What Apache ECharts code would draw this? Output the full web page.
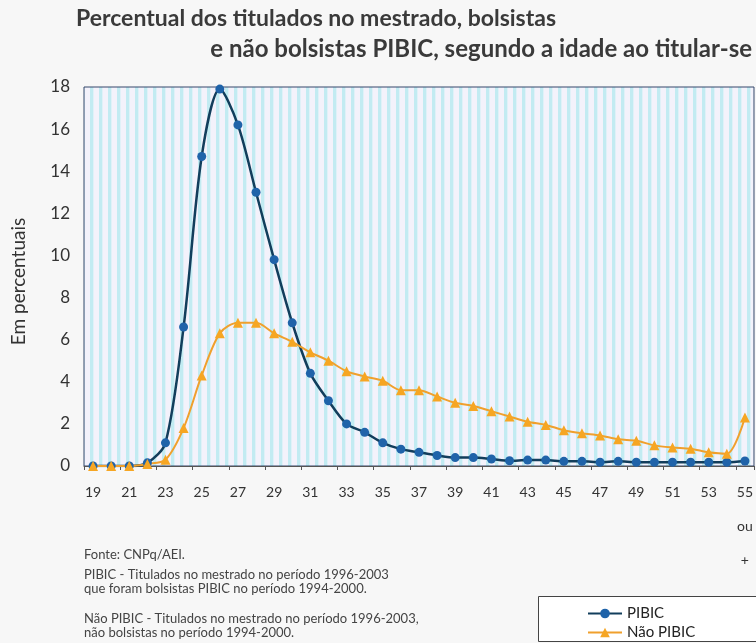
<!DOCTYPE html>
<html>
<head>
<meta charset="utf-8">
<script src="https://cdn.jsdelivr.net/npm/echarts@6/dist/echarts.min.js"></script>
<style>
html, body { margin: 0; padding: 0; background: #f7f7f7; }
#container { width: 756px; height: 643px; }
</style>
</head>
<body>
<div id="container"></div>
<script>
var ages = ['19','20','21','22','23','24','25','26','27','28','29','30','31','32','33','34','35','36','37',
            '38','39','40','41','42','43','44','45','46','47','48','49','50','51','52','53','54','55 ou +'];
var pibic = [0, 0, 0, 0.15, 1.1, 6.6, 14.7, 17.9, 16.2, 13.0, 9.8, 6.8, 4.4, 3.1, 2.0, 1.6, 1.1, 0.8, 0.65,
             0.5, 0.4, 0.4, 0.33, 0.25, 0.28, 0.28, 0.22, 0.22, 0.18, 0.22, 0.18, 0.18, 0.18, 0.18, 0.18, 0.18, 0.24];
var naoPibic = [0, 0, 0, 0.1, 0.3, 1.8, 4.3, 6.3, 6.8, 6.8, 6.3, 5.9, 5.4, 5.0, 4.5, 4.25, 4.05, 3.6, 3.6,
                3.3, 3.0, 2.85, 2.6, 2.35, 2.1, 1.95, 1.7, 1.55, 1.45, 1.27, 1.2, 0.98, 0.88, 0.82, 0.65, 0.58, 2.3];
var yTicks = { min: 0, max: 18, interval: 2 };

// striped background of the plot area
var stripe = document.createElement('canvas');
stripe.width = 9; stripe.height = 4;
var sc = stripe.getContext('2d');
sc.fillStyle = '#f3f2fb'; sc.fillRect(0, 0, 9, 4);
sc.fillStyle = '#c2ebf2'; sc.fillRect(0, 0, 3, 4);
sc.fillStyle = '#e0f1f8'; sc.fillRect(3, 0, 1, 4);

var font = 'Lato, "DejaVu Sans", sans-serif';
var legendText = { fontSize: 15, color: '#222', fontFamily: font };
var dom = document.getElementById('container');
var myChart = echarts.init(dom);
var option = {
  backgroundColor: '#f7f7f7',
  textStyle: { fontFamily: font },
  grid: {
    left: 84, right: -2, top: 87, bottom: 177,
    show: true,
    backgroundColor: { image: stripe, repeat: 'repeat' },
    borderColor: '#34466a', borderWidth: 1
  },
  legend: [
    { left: 582, top: 601, itemWidth: 34, itemHeight: 12, textStyle: legendText, data: ['PIBIC'] },
    { left: 582, top: 620, itemWidth: 34, itemHeight: 12, textStyle: legendText, data: ['Não PIBIC'] }
  ],
  xAxis: {
    type: 'category',
    data: ages,
    boundaryGap: true,
    axisLine: { lineStyle: { color: '#555', width: 1 } },
    axisTick: { show: true, length: 4, lineStyle: { color: '#555' } },
    axisLabel: {
      interval: 1, color: '#333', fontSize: 14, margin: 9, lineHeight: 34,
      formatter: function (v) { return v === '55 ou +' ? '55\nou\n+' : v; }
    },
    splitLine: { show: false }
  },
  yAxis: {
    type: 'value',
    min: yTicks.min, max: yTicks.max, interval: yTicks.interval,
    name: 'Em percentuais',
    nameLocation: 'middle', nameRotate: 90, nameGap: 56,
    nameTextStyle: { fontSize: 19, color: '#333', padding: [0, 10, 0, 0] },
    axisLine: { show: false },
    axisTick: { show: false },
    axisLabel: { color: '#333', fontSize: 17, margin: 14 },
    splitLine: { show: false }
  },
  series: [
    {
      name: 'PIBIC', type: 'line', data: pibic, smooth: 0.3,
      symbol: 'circle', symbolSize: 9,
      lineStyle: { color: '#123e5c', width: 2.5 },
      itemStyle: { color: '#1f63a9' }
    },
    {
      name: 'Não PIBIC', type: 'line', data: naoPibic, smooth: 0.3,
      symbol: 'triangle', symbolSize: 10,
      lineStyle: { color: '#f0a02c', width: 2 },
      itemStyle: { color: '#f6a623' }
    }
  ],
  graphic: [
    { type: 'text', left: 76, top: 7, style: { text: 'Percentual dos titulados no mestrado, bolsistas',
      font: 'bold 23px ' + font, fill: '#3a3a3a' } },
    { type: 'text', right: 4, top: 37, style: { text: 'e não bolsistas PIBIC, segundo a idade ao titular-se',
      font: 'bold 24px ' + font, fill: '#3a3a3a' } },
    { type: 'text', left: 84, top: 548, style: { text: 'Fonte: CNPq/AEI.', font: '13px ' + font, fill: '#444' } },
    { type: 'text', left: 84, top: 568, style: {
      text: 'PIBIC - Titulados no mestrado no período 1996-2003\nque foram bolsistas PIBIC no período 1994-2000.',
      font: '13px ' + font, fill: '#444', lineHeight: 14 } },
    { type: 'text', left: 84, top: 612, style: {
      text: 'Não PIBIC - Titulados no mestrado no período 1996-2003,\nnão bolsistas no período 1994-2000.',
      font: '13px ' + font, fill: '#444', lineHeight: 14 } },
    { type: 'rect', z: -1, shape: { x: 538.5, y: 596.5, width: 240, height: 45 },
      style: { fill: '#ffffff', stroke: '#444', lineWidth: 1 } }
  ]
};
myChart.setOption(option);
</script>
</body>
</html>
